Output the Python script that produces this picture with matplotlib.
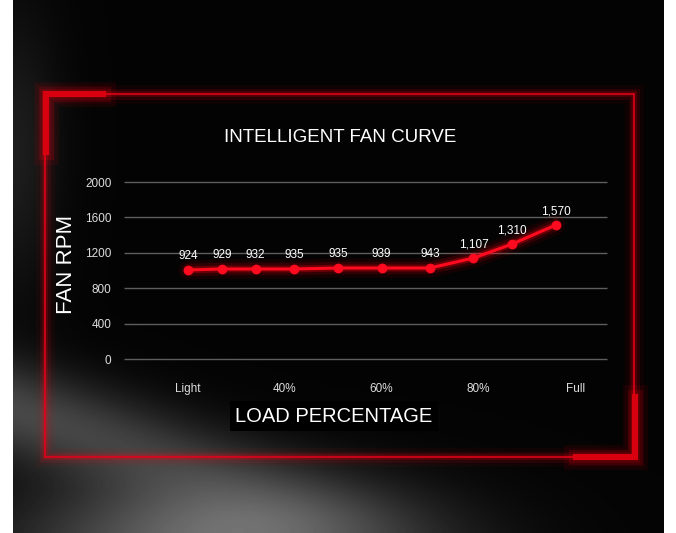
import numpy as np
import matplotlib.pyplot as plt

# values as drawn on the curve (the labels on the chart are listed separately)
load_pct = [20, 27, 34, 42, 51, 60, 70, 79, 87, 96]
rpm = [1006, 1017, 1017, 1017, 1028, 1028, 1028, 1141, 1299, 1514]
rpm_labels = ['924', '929', '932', '935', '935', '939', '943', '1,107', '1,310', '1,570']
x_ticks = [20, 40, 60, 80, 100]
x_tick_labels = ['Light', '40%', '60%', '80%', 'Full']
y_ticks = [0, 400, 800, 1200, 1600, 2000]

W, H = 676, 533
sans = ['Liberation Sans', 'DejaVu Sans']
red = '#ff0a1e'

fig = plt.figure(figsize=(W / 100, H / 100), dpi=100, facecolor='white')

# background picture (pixel coordinates)
bg = fig.add_axes([0, 0, 1, 1])
xx, yy = np.meshgrid(np.arange(13, 664), np.arange(0, H))
img = 0.015 + 0.40 * np.exp(-((xx - 220) / 190) ** 2 - ((yy - 540) / 60) ** 2)
band = 410 + (xx - 13) * 0.30
img += 0.26 * np.exp(-((yy - band) / 50) ** 2) * np.exp(-((xx - 13) / 300) ** 2)
img += 0.10 * np.exp(-((xx - 13) / 45) ** 2 - ((yy - 150) / 140) ** 2)
img = np.clip(img, 0, 1)
bg.imshow(img, extent=(13, 664, H, 0), cmap='gray', vmin=0, vmax=1,
          interpolation='bilinear', aspect='auto')
bg.set_xlim(0, W)
bg.set_ylim(H, 0)
bg.axis('off')

# red frame with glow
fx = [45, 634, 634, 45, 45]
fy = [94, 94, 457, 457, 94]
for lw, a in [(14, 0.05), (8, 0.10), (4, 0.2)]:
    bg.plot(fx, fy, color='#ff0010', lw=lw, alpha=a, solid_joinstyle='miter')
bg.plot(fx, fy, color='#e8001a', lw=1.1, solid_joinstyle='miter')

corners = [([103, 45.5, 45.5], [94, 94, 152]), ([576, 635, 635], [456.5, 456.5, 397])]
for cx, cy in corners:
    for lw, a in [(18, 0.07), (11, 0.15)]:
        bg.plot(cx, cy, color='#ff0010', lw=lw, alpha=a, solid_joinstyle='miter')
    bg.plot(cx, cy, color='#d8000f', lw=4.5, solid_joinstyle='miter')

bg.text(340, 137, 'INTELLIGENT FAN CURVE', color='white', fontsize=13.5,
        family=sans, ha='center', va='center')
bg.text(66, 264, 'FAN RPM', color='white', fontsize=16, rotation=90,
        family=sans, ha='center', va='center')
bg.text(334, 416, 'LOAD PERCENTAGE', color='white', fontsize=14.5,
        family=sans, ha='center', va='center',
        bbox=dict(facecolor='black', edgecolor='none', pad=4))

# chart
ax = fig.add_axes([124 / W, 1 - 359 / H, (607 - 124) / W, (359 - 182) / H])
ax.patch.set_alpha(0)
ax.set_xlim(6.77, 106.6)
ax.set_ylim(0, 2000)
for s in ax.spines.values():
    s.set_visible(False)
ax.set_yticks(y_ticks)
ax.set_xticks(x_ticks)
ax.set_xticklabels(x_tick_labels)
ax.hlines(y_ticks, 6.77, 106.6, color='#5e5e5e', lw=1, clip_on=False, zorder=0)
ax.tick_params(length=0, colors='#dddddd', labelsize=8.5)
ax.tick_params(axis='y', pad=9)
ax.tick_params(axis='x', pad=17)
for lab in ax.get_xticklabels() + ax.get_yticklabels():
    lab.set_family(sans)

for lw, a in [(14, 0.07), (9, 0.13), (5, 0.28)]:
    ax.plot(load_pct, rpm, color='#ff0010', lw=lw, alpha=a, solid_capstyle='round')
ax.plot(load_pct, rpm, color=red, lw=2.2, marker='o', ms=6, mec=red, mfc=red)

for x, y, t in zip(load_pct, rpm, rpm_labels):
    ax.annotate(t, (x, y), xytext=(0, 10), textcoords='offset points',
                ha='center', va='center', color='white', fontsize=8.5, family=sans)

fig.savefig('out.png', dpi=100, facecolor='white')
